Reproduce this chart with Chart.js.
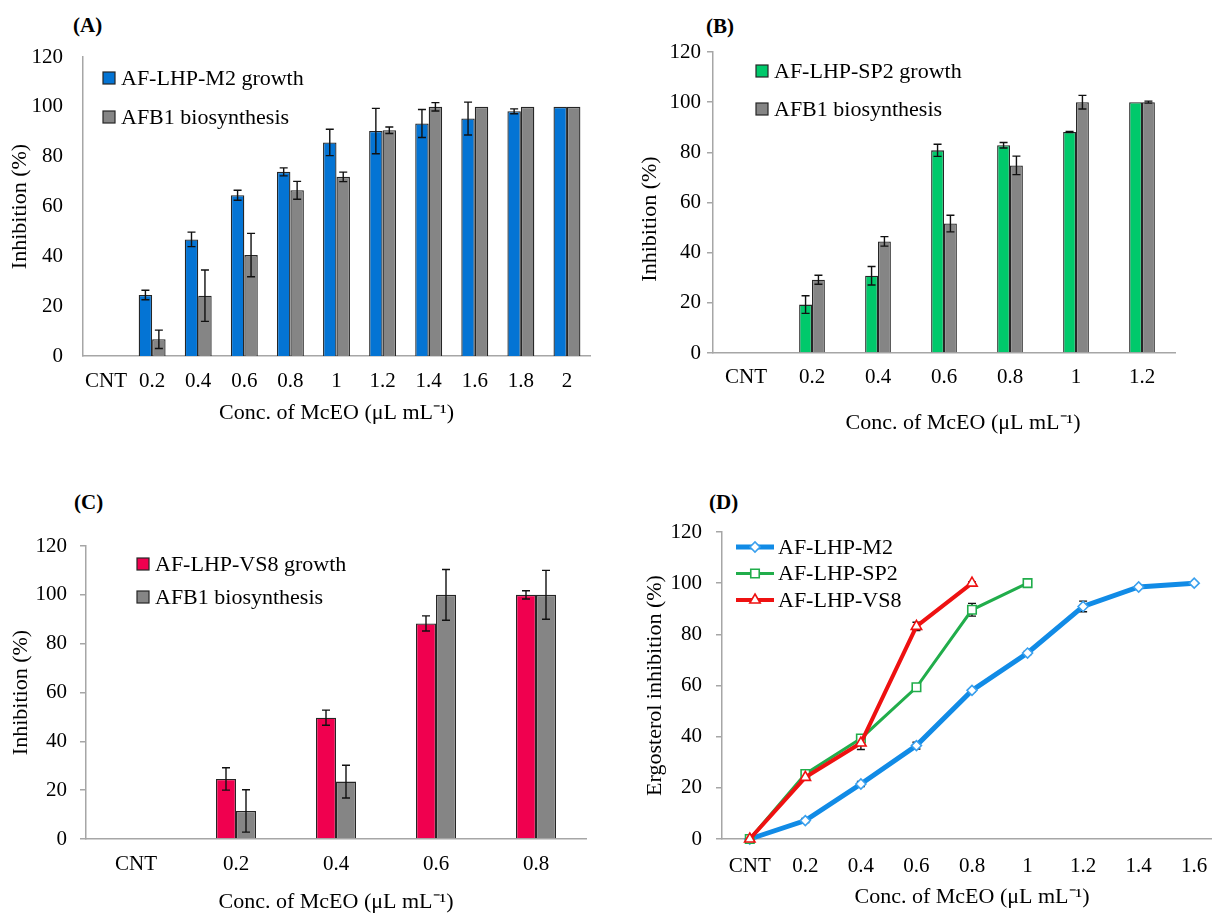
<!DOCTYPE html>
<html lang="en">
<head>
<meta charset="UTF-8">
<title>McEO inhibition</title>
<script src="https://cdn.jsdelivr.net/npm/chart.js"></script>
<style>
  html, body { margin: 0; padding: 0; background: #fff; overflow: hidden; width: 1212px; height: 913px; }
  .panel { position: absolute; }
  .tag { position: absolute; font: bold 21px 'Liberation Serif', 'Times New Roman', serif; line-height: 24px; color: #000; }
</style>
</head>
<body>
<div class="tag" style="left:73px;top:13px">(A)</div>
<div class="tag" style="left:706px;top:14px">(B)</div>
<div class="tag" style="left:74px;top:490px">(C)</div>
<div class="tag" style="left:709px;top:490px">(D)</div>

<canvas id="chartA" class="panel" width="606" height="456" style="left:0;top:0"></canvas>
<canvas id="chartB" class="panel" width="606" height="456" style="left:606px;top:0"></canvas>
<canvas id="chartC" class="panel" width="606" height="470" style="left:0;top:456px"></canvas>
<canvas id="chartD" class="panel" width="640" height="470" style="left:606px;top:456px"></canvas>

<script>
// shared axis text
const yTicks = [0, 20, 40, 60, 80, 100, 120];
const xTitle = 'Conc. of McEO (\u03bcL mL\u207b\u00b9)';

// (A) AF-LHP-M2
const concA = ['CNT', '0.2', '0.4', '0.6', '0.8', '1', '1.2', '1.4', '1.6', '1.8', '2'];
const m2Growth = [0, 24.5, 46.8, 64.5, 73.9, 85.7, 90.3, 93.3, 95.3, 98.2, 100];
const m2GrowthErr = [0, 1.9, 2.9, 2.0, 1.6, 5.3, 9.1, 5.6, 6.6, 1.0, 0];
const m2Afb1 = [0, 6.7, 24.2, 40.5, 66.5, 71.9, 90.6, 100, 100, 100, 100];
const m2Afb1Err = [0, 3.7, 10.3, 8.7, 3.6, 1.9, 1.3, 1.7, 0, 0, 0];

// (B) AF-LHP-SP2
const concB = ['CNT', '0.2', '0.4', '0.6', '0.8', '1', '1.2'];
const sp2Growth = [0, 19.3, 30.8, 80.8, 82.8, 88.1, 100];
const sp2GrowthErr = [0, 3.5, 3.7, 2.4, 1.1, 0.2, 0];
const sp2Afb1 = [0, 29.2, 44.5, 51.6, 74.8, 100, 100];
const sp2Afb1Err = [0, 1.8, 1.9, 3.3, 3.7, 2.7, 0.4];

// (C) AF-LHP-VS8
const concC = ['CNT', '0.2', '0.4', '0.6', '0.8'];
const vs8Growth = [0, 24.6, 49.7, 88.3, 100];
const vs8GrowthErr = [0, 4.6, 3.1, 3.1, 1.7];
const vs8Afb1 = [0, 11.5, 23.5, 100, 100];
const vs8Afb1Err = [0, 8.7, 6.7, 10.4, 10];

// (D) ergosterol inhibition
const concD = ['CNT', '0.2', '0.4', '0.6', '0.8', '1', '1.2', '1.4', '1.6'];
const ergM2 = [0, 7.2, 21.5, 36.5, 58.1, 72.7, 90.9, 98.5, 100];
const ergM2Err = [0, 0.8, 1, 1.3, 0.6, 0.6, 2.1, 0.5, 0.3];
const ergSP2 = [0, 25.4, 39.3, 59.3, 89.6, 100];
const ergSP2Err = [0, 0.8, 1.2, 0.8, 2.5, 0.5];
const ergVS8 = [0, 24.1, 37.5, 83.1, 100];
const ergVS8Err = [0, 1, 2.5, 1.6, 0.5];

const SERIF = "'Liberation Serif', 'Times New Roman', serif";
Chart.defaults.font.family = SERIF;
Chart.defaults.color = '#000';
const AXIS_GREY = '#a6a6a6';
const GREY = '#858585';

// vertical error bars with caps, taken from dataset.errors
function drawErrors(chart) {
    const ctx = chart.ctx;
    const yScale = chart.scales.y;
    ctx.save();
    ctx.strokeStyle = '#111';
    ctx.lineWidth = 1.4;
    chart.data.datasets.forEach((ds, di) => {
        if (!ds.errors) return;
        const meta = chart.getDatasetMeta(di);
        meta.data.forEach((el, i) => {
            const v = ds.data[i];
            const e = ds.errors[i];
            if (v == null || !e) return;
            const top = yScale.getPixelForValue(v + e);
            const bot = yScale.getPixelForValue(v - e);
            ctx.beginPath();
            ctx.moveTo(el.x, top); ctx.lineTo(el.x, bot);
            ctx.moveTo(el.x - 4, top); ctx.lineTo(el.x + 4, top);
            ctx.moveTo(el.x - 4, bot); ctx.lineTo(el.x + 4, bot);
            ctx.stroke();
        });
    });
    ctx.restore();
}

const errorBars = {
    id: 'errorBars',
    beforeDatasetsDraw(chart, args, opts) { if (opts.behind) drawErrors(chart); },
    afterDatasetsDraw(chart, args, opts) { if (!opts.behind) drawErrors(chart); }
};

// legend drawn inside the plot, one row per dataset
const panelLegend = {
    id: 'panelLegend',
    afterDraw(chart, args, opts) {
        const ctx = chart.ctx;
        ctx.save();
        ctx.font = '22px ' + SERIF;
        ctx.textBaseline = 'middle';
        chart.data.datasets.forEach((ds, i) => {
            const y = opts.y + i * opts.gap;
            if (opts.kind === 'line') {
                ctx.strokeStyle = ds.borderColor;
                ctx.lineWidth = ds.borderWidth;
                ctx.beginPath();
                ctx.moveTo(opts.x, y);
                ctx.lineTo(opts.x + opts.len, y);
                ctx.stroke();
                ctx.fillStyle = '#fff';
                ctx.strokeStyle = ds.pointBorderColor;
                ctx.lineWidth = ds.pointBorderWidth;
                Chart.helpers.drawPoint(ctx, {
                    pointStyle: ds.pointStyle, radius: ds.pointRadius,
                    borderWidth: ds.pointBorderWidth, rotation: 0
                }, opts.x + opts.len / 2, y);
            } else {
                ctx.fillStyle = ds.backgroundColor;
                ctx.fillRect(opts.x, y - 6, 12, 12);
                ctx.strokeStyle = '#262626';
                ctx.lineWidth = 1.2;
                ctx.strokeRect(opts.x, y - 6, 12, 12);
            }
            ctx.fillStyle = '#000';
            ctx.fillText(ds.label, opts.textX, y + 1);
        });
        ctx.restore();
    }
};

// axis titles placed by hand where they sit off the plot centre
const looseTitles = {
    id: 'looseTitles',
    afterDraw(chart, args, opts) {
        if (!opts.items) return;
        const ctx = chart.ctx;
        ctx.save();
        ctx.font = '22px ' + SERIF;
        ctx.fillStyle = '#000';
        ctx.textAlign = 'center';
        ctx.textBaseline = 'middle';
        opts.items.forEach(t => {
            ctx.save();
            ctx.translate(t.x, t.y);
            ctx.rotate(t.rot || 0);
            ctx.fillText(t.text, 0, 0);
            ctx.restore();
        });
        ctx.restore();
    }
};

function buildScales(g) {
    return {
        x: {
            offset: true,
            grid: { display: false, drawTicks: false },
            border: { color: AXIS_GREY, width: 1.5 },
            ticks: { font: { size: 21 }, padding: g.xPad, autoSkip: false, maxRotation: 0 },
            title: { display: !g.manualTitles, text: xTitle, font: { size: 22 }, padding: { top: 0, bottom: g.xTitlePad } },
            afterFit: s => { s.height = g.xH; }
        },
        y: {
            min: 0, max: 120,
            afterBuildTicks: s => { s.ticks = yTicks.map(v => ({ value: v })); },
            grid: { display: g.yTicks, drawOnChartArea: false, drawTicks: g.yTicks, tickLength: 6, color: AXIS_GREY, lineWidth: 1.5 },
            border: { color: AXIS_GREY, width: 1.5 },
            ticks: { font: { size: 21 }, padding: g.yPad },
            title: { display: !g.manualTitles, text: g.yTitle || 'Inhibition (%)', font: { size: 22 }, padding: { top: g.yTitlePad, bottom: 0 } },
            afterFit: s => { s.width = g.yW; }
        }
    };
}

function barChart(id, labels, sets, g) {
    return new Chart(document.getElementById(id), {
        type: 'bar',
        data: {
            labels: labels,
            datasets: sets.map(s => ({
                label: s.label, data: s.data, errors: s.errors,
                backgroundColor: s.color, borderColor: '#262626', borderWidth: 1.3,
                categoryPercentage: g.cat, barPercentage: 1
            }))
        },
        options: {
            responsive: false, animation: false,
            layout: { padding: { top: g.top, right: g.right, left: 0, bottom: 0 } },
            scales: buildScales(g),
            plugins: {
                legend: { display: false }, tooltip: { enabled: false },
                errorBars: { behind: false },
                panelLegend: { kind: 'box', x: g.legX, textX: g.legX + 18, y: g.legY, gap: g.legGap },
                looseTitles: { items: g.manualTitles }
            }
        },
        plugins: [errorBars, panelLegend, looseTitles]
    });
}

barChart('chartA', concA, [
    { label: 'AF-LHP-M2 growth', data: m2Growth, errors: m2GrowthErr, color: '#0474D4' },
    { label: 'AFB1 biosynthesis', data: m2Afb1, errors: m2Afb1Err, color: GREY }
], { top: 57, right: 16, yW: 83, xH: 100, xPad: 13, xTitlePad: 30, yPad: 20, yTicks: false, yTitlePad: 7,
     cat: 0.584, legX: 103, legY: 78, legGap: 39 });

barChart('chartB', concB, [
    { label: 'AF-LHP-SP2 growth', data: sp2Growth, errors: sp2GrowthErr, color: '#00C96B' },
    { label: 'AFB1 biosynthesis', data: sp2Afb1, errors: sp2Afb1Err, color: GREY }
], { top: 52, right: 37, yW: 107, xH: 103, xPad: 12, xTitlePad: 20, yPad: 6, yTicks: true, yTitlePad: 31,
     cat: 0.39, legX: 150, legY: 71, legGap: 38,
     manualTitles: [
         { text: 'Inhibition (%)', x: 44, y: 219, rot: -Math.PI / 2 },
         { text: xTitle, x: 357, y: 423 }
     ] });

barChart('chartC', concC, [
    { label: 'AF-LHP-VS8 growth', data: vs8Growth, errors: vs8GrowthErr, color: '#F0004F' },
    { label: 'AFB1 biosynthesis', data: vs8Afb1, errors: vs8Afb1Err, color: GREY }
], { top: 90, right: 20, yW: 86, xH: 87, xPad: 13, xTitlePad: 11, yPad: 13, yTicks: true, yTitlePad: 8,
     cat: 0.4, legX: 137, legY: 108, legGap: 33 });

// (D) line chart, its category axis runs past the right edge of the page
const lineSets = [
    { label: 'AF-LHP-M2', data: ergM2, errors: ergM2Err, color: '#118BE6', marker: '#3AA0EE', style: 'rectRot', width: 5, r: 5, order: 3 },
    { label: 'AF-LHP-SP2', data: ergSP2, errors: ergSP2Err, color: '#21AD4B', marker: '#21AD4B', style: 'rect', width: 3, r: 6, order: 2 },
    { label: 'AF-LHP-VS8', data: ergVS8, errors: ergVS8Err, color: '#EE1111', marker: '#EE1111', style: 'triangle', width: 4, r: 6, order: 1 }
];
const gD = { top: 76, right: 24, yW: 116, xH: 87, xPad: 15, xTitlePad: 16, yPad: 14, yTicks: true, yTitlePad: 36,
             yTitle: 'Ergosterol inhibition (%)' };

new Chart(document.getElementById('chartD'), {
    type: 'line',
    data: {
        labels: concD,
        datasets: lineSets.map(s => ({
            label: s.label, data: s.data, errors: s.errors, order: s.order,
            borderColor: s.color, borderWidth: s.width, tension: 0, fill: false, clip: false,
            pointStyle: s.style, pointRadius: s.r, pointBackgroundColor: '#fff',
            pointBorderColor: s.marker, pointBorderWidth: 1.6
        }))
    },
    options: {
        responsive: false, animation: false,
        layout: { padding: { top: gD.top, right: gD.right, left: 0, bottom: 0 } },
        scales: buildScales(gD),
        plugins: {
            legend: { display: false }, tooltip: { enabled: false },
            errorBars: { behind: true },
            panelLegend: { kind: 'line', x: 130, len: 38, textX: 172, y: 91, gap: 26.5 }
        }
    },
    plugins: [errorBars, panelLegend]
});
</script>
</body>
</html>
